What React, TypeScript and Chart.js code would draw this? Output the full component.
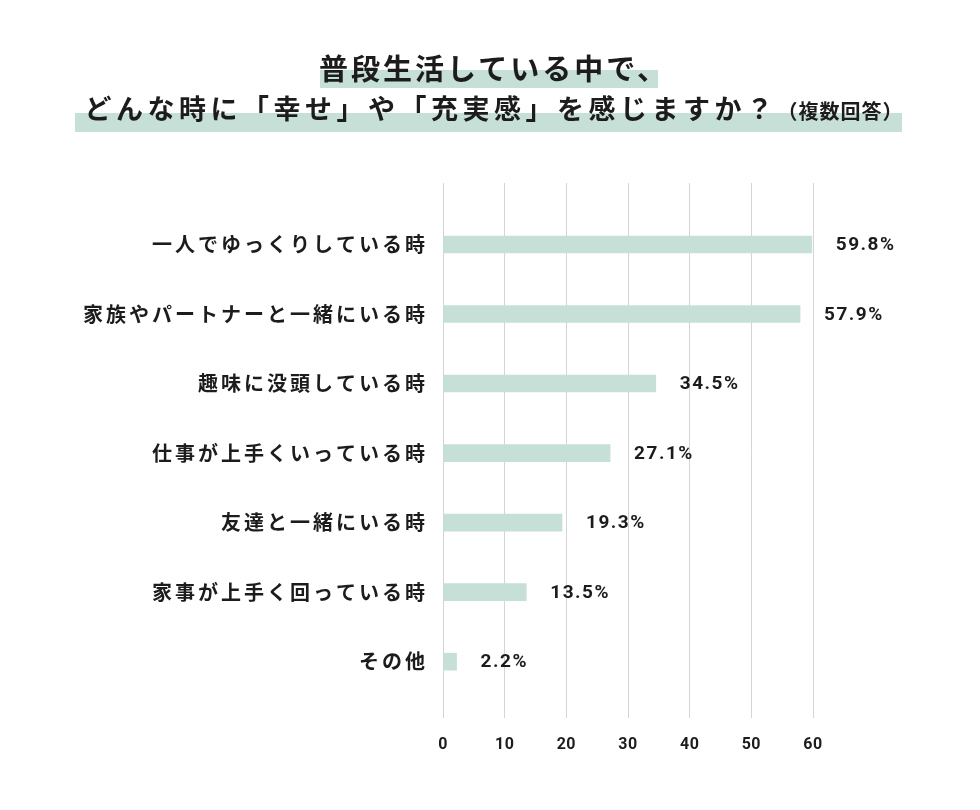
import React, { useEffect, useRef } from "react";
import { Chart, registerables } from "chart.js";

Chart.register(...registerables);

const categories = [
  "一人でゆっくりしている時",
  "家族やパートナーと一緒にいる時",
  "趣味に没頭している時",
  "仕事が上手くいっている時",
  "友達と一緒にいる時",
  "家事が上手く回っている時",
  "その他",
];
const values = [59.8, 57.9, 34.5, 27.1, 19.3, 13.5, 2.2];
const xTickValues = [0, 10, 20, 30, 40, 50, 60];

const titleLine1 = "普段生活している中で、";
const titleLine2 = "どんな時に「幸せ」や「充実感」を感じますか？";
const titleNote = "（複数回答）";

const BAR_COLOR = "#c6dfd7";
const TEXT_COLOR = "#1c1c1c";
const NUM_FONT = "Roboto, 'Liberation Sans', sans-serif";

export default function App() {
  const ref = useRef<HTMLCanvasElement | null>(null);

  useEffect(() => {
    if (!ref.current) return;
    const valueLabels = {
      id: "valueLabels",
      beforeDraw(chart: any) {
        chart.ctx.letterSpacing = "3px";
      },
      afterDatasetsDraw(chart: any) {
        const ctx = chart.ctx;
        const meta = chart.getDatasetMeta(0);
        ctx.save();
        ctx.letterSpacing = "1.5px";
        ctx.font = "bold 19px " + NUM_FONT;
        ctx.fillStyle = TEXT_COLOR;
        ctx.textAlign = "left";
        ctx.textBaseline = "middle";
        meta.data.forEach((bar: any, i: number) => {
          ctx.fillText(values[i].toFixed(1) + "%", bar.x + 24, bar.y + 1);
        });
        ctx.restore();
        ctx.letterSpacing = "0.5px";
      },
      afterDraw(chart: any) {
        chart.ctx.letterSpacing = "0px";
      },
    };

    const chart = new Chart(ref.current, {
      type: "bar",
      data: {
        datasets: [
          {
            data: values.map((v, i) => ({ x: v, y: i })) as any,
            backgroundColor: BAR_COLOR,
            borderWidth: 0,
            barThickness: 17,
          },
        ],
      },
      options: {
        indexAxis: "y",
        responsive: false,
        animation: false,
        layout: { padding: { left: 0, right: 167, top: 183, bottom: 0 } },
        plugins: {
          legend: { display: false },
          tooltip: { enabled: false },
        },
        scales: {
          x: {
            type: "linear",
            position: "bottom",
            min: 0,
            max: 60,
            offset: false,
            afterBuildTicks: (scale: any) => {
              scale.ticks = xTickValues.map((v) => ({ value: v }));
            },
            afterFit: (scale: any) => {
              scale.height = 92;
            },
            grid: {
              color: "#d5d5d5",
              lineWidth: 1,
              drawTicks: false,
              z: 0,
            },
            border: { display: false },
            ticks: {
              z: 1,
              padding: 17,
              color: TEXT_COLOR,
              font: { size: 16, family: NUM_FONT, weight: "bold" as any },
            },
          },
          y: {
            type: "linear",
            reverse: true,
            offset: false,
            min: -0.884,
            max: 6.81,
            afterBuildTicks: (scale: any) => {
              scale.ticks = categories.map((_, i) => ({ value: i }));
            },
            afterFit: (scale: any) => {
              scale.width = 443;
            },
            grid: { display: false, drawTicks: false },
            border: { display: false },
            ticks: {
              padding: 15,
              autoSkip: false,
              color: TEXT_COLOR,
              font: { size: 20, family: "'Noto Sans CJK JP', sans-serif", weight: "bold" as any },
              callback: (v: any) => categories[v as number] ?? "",
            },
          },
        },
      },
      plugins: [valueLabels],
    });
    return () => chart.destroy();
  }, []);

  const jp = "'Noto Sans CJK JP', sans-serif";
  return (
    <div style={{ position: "absolute", left: 0, top: 0, width: 980, height: 810, background: "#fff", overflow: "hidden" }}>
      <canvas ref={ref} width={980} height={810} style={{ position: "absolute", left: 0, top: 0, width: 980, height: 810 }} />
      <div style={{ position: "absolute", left: 320, top: 70, width: 338, height: 18, background: BAR_COLOR }} />
      <div style={{ position: "absolute", left: 75, top: 113, width: 827, height: 19, background: BAR_COLOR }} />
      <div
        style={{
          position: "absolute",
          left: 4,
          top: 47,
          width: 980,
          textAlign: "center",
          fontFamily: jp,
          fontWeight: 700,
          fontSize: 29,
          lineHeight: "40px",
          letterSpacing: 3,
          color: TEXT_COLOR,
          whiteSpace: "nowrap",
        }}
      >
        {titleLine1}
      </div>
      <div
        style={{
          position: "absolute",
          left: 4,
          top: 88,
          width: 980,
          textAlign: "center",
          fontFamily: jp,
          fontWeight: 700,
          color: TEXT_COLOR,
          whiteSpace: "nowrap",
          lineHeight: "40px",
        }}
      >
        <span style={{ fontSize: 27, letterSpacing: 4.5 }}>{titleLine2}</span>
        <span style={{ fontSize: 20, letterSpacing: 1 }}>{titleNote}</span>
      </div>
    </div>
  );
}
